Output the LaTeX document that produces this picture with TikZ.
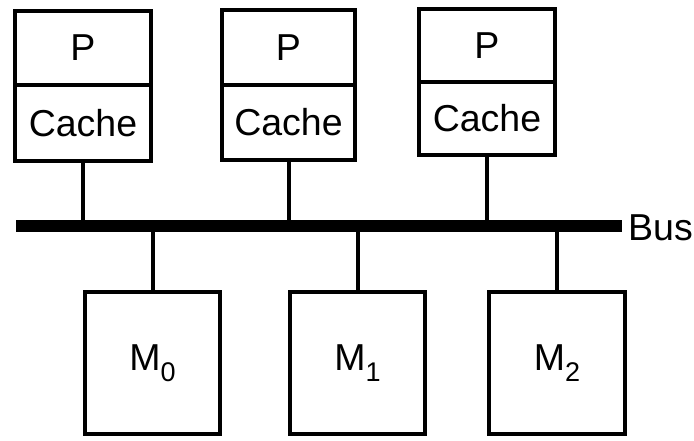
\documentclass[tikz,border=0pt]{standalone}
\usepackage{fontspec}
\setmainfont{Liberation Sans}
\begin{document}
\begin{tikzpicture}[x=1pt,y=-1pt,
  boxstyle/.style={draw=black,line width=4pt,inner sep=0pt,outer sep=0pt,anchor=center,
    font=\fontsize{37.5}{42}\selectfont},
  link/.style={line width=4pt}]
\useasboundingbox (0,0) rectangle (694,440);
% processors
\node[boxstyle,minimum width=136pt,minimum height=74pt] (p1) at (83,48) {P};
\node[boxstyle,minimum width=136pt,minimum height=76pt] (c1) at (83,123) {Cache};
\node[boxstyle,minimum width=133pt,minimum height=75pt] (p2) at (288.5,47.5) {P};
\node[boxstyle,minimum width=133pt,minimum height=75pt] (c2) at (288.5,122.5) {Cache};
\node[boxstyle,minimum width=136pt,minimum height=73pt] (p3) at (487,45.5) {P};
\node[boxstyle,minimum width=136pt,minimum height=73pt] (c3) at (487,118.5) {Cache};
% bus
\node[fill=black,inner sep=0pt,outer sep=0pt,minimum width=606pt,minimum height=12pt] (bus) at (319,226) {};
\node[anchor=west,inner sep=0pt,font=\fontsize{37.5}{42}\selectfont] (buslabel) at (628,228) {Bus};
% memories
\newcommand{\memlabel}[1]{M\raisebox{-0.28em}{\fontsize{27}{30}\selectfont #1}}
\node[boxstyle,minimum width=135pt,minimum height=142pt] (m0) at (152.5,363) {\memlabel{0}};
\node[boxstyle,minimum width=135pt,minimum height=142pt] (m1) at (357.5,363) {\memlabel{1}};
\node[boxstyle,minimum width=136pt,minimum height=142pt] (m2) at (557,363) {\memlabel{2}};
% connectors
\draw[link] (c1.south) -- (c1.south |- bus.center);
\draw[link] (c2.south) -- (c2.south |- bus.center);
\draw[link] (c3.south) -- (c3.south |- bus.center);
\draw[link] (m0.north) -- (m0.north |- bus.center);
\draw[link] (m1.north) -- (m1.north |- bus.center);
\draw[link] (m2.north) -- (m2.north |- bus.center);
\end{tikzpicture}
\end{document}
